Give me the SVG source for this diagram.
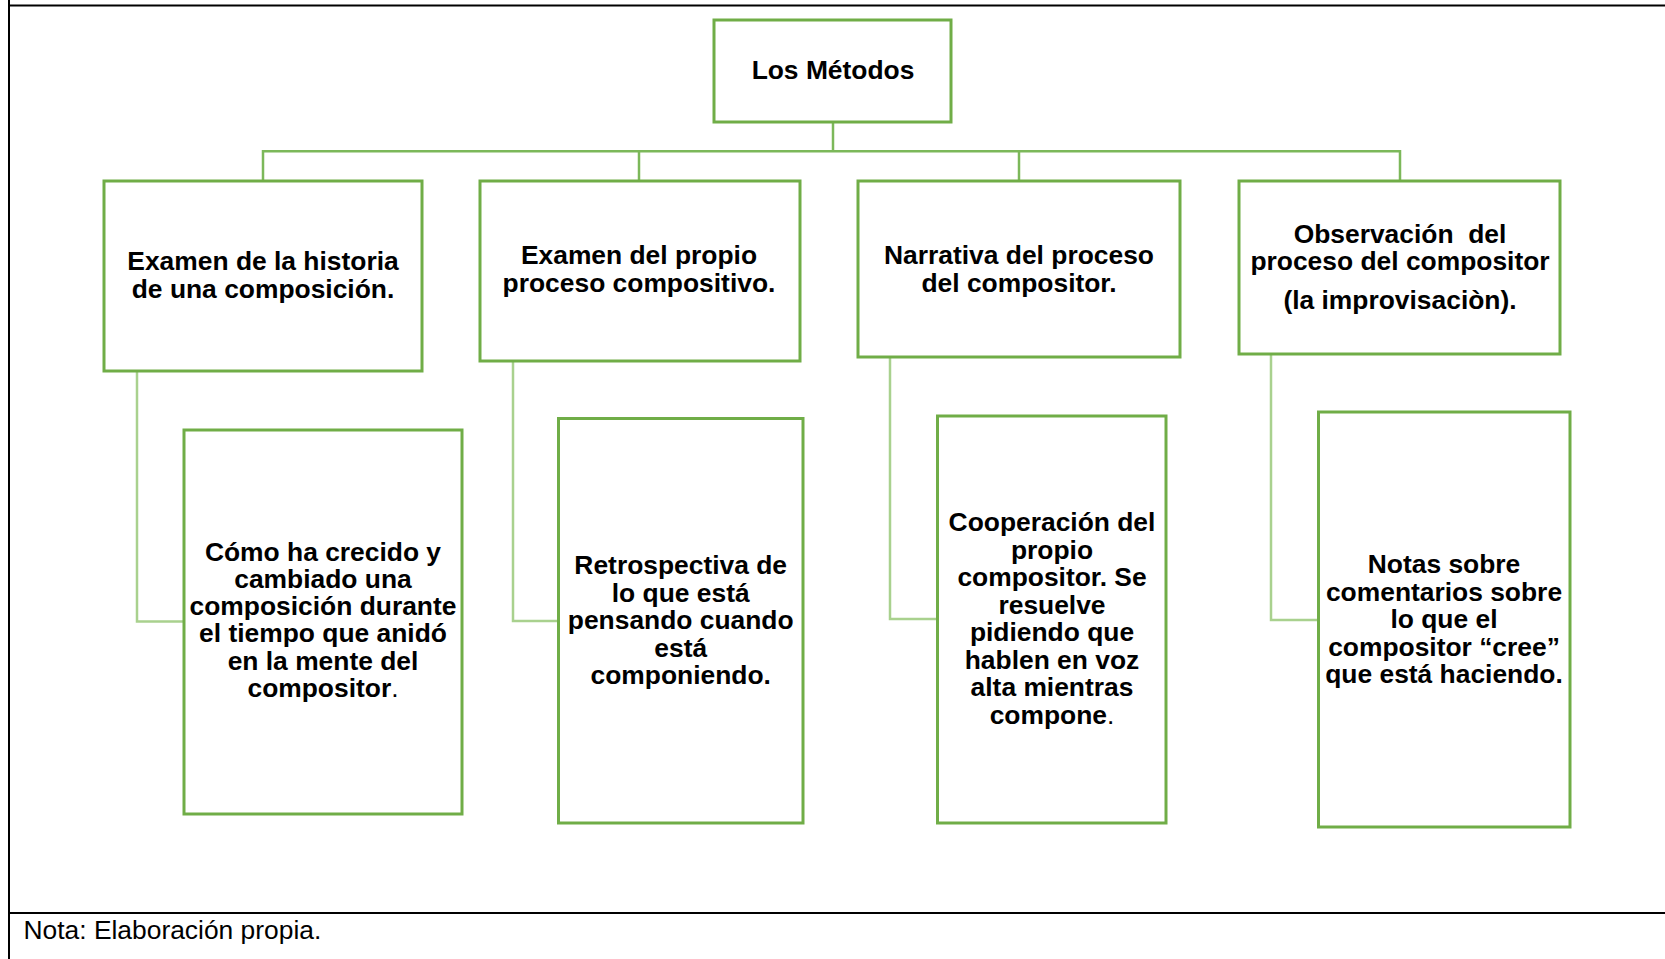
<svg xmlns="http://www.w3.org/2000/svg" width="1665" height="959" viewBox="0 0 1665 959">
<style>
.frame{stroke:#000;stroke-width:2;fill:none}
.box{fill:#fff;stroke:#70ad47;stroke-width:3}
.tree{fill:none;stroke:#7cb85a;stroke-width:2.5}
.elbow{fill:none;stroke:#a9d18e;stroke-width:2.5}
.t{font-family:"Liberation Sans",Arial,sans-serif;font-size:26.4px;font-weight:bold;fill:#000;text-anchor:middle}
.r{font-weight:normal}
.nota{font-family:"Liberation Sans",Arial,sans-serif;font-size:26.4px;fill:#000}
</style>
<rect x="0" y="0" width="1665" height="959" fill="#fff"/>
<g id="frame">
<line class="frame" x1="9" y1="0" x2="9" y2="959"/>
<line class="frame" x1="9" y1="5.5" x2="1665" y2="5.5"/>
<line class="frame" x1="9" y1="913" x2="1665" y2="913"/>
</g>
<g id="connectors">
<polyline class="tree" points="833,122 833,151.3"/>
<polyline class="tree" points="263,181 263,151.3 1400,151.3 1400,181"/>
<line class="tree" x1="639" y1="151.3" x2="639" y2="181"/>
<line class="tree" x1="1019" y1="151.3" x2="1019" y2="181"/>
<polyline class="elbow" points="137,371 137,621.5 184,621.5"/>
<polyline class="elbow" points="513,361 513,621 558.5,621"/>
<polyline class="elbow" points="890,357 890,619 937.5,619"/>
<polyline class="elbow" points="1271,354 1271,620 1318.5,620"/>
</g>
<g id="root">
<rect class="box" x="714" y="20" width="237" height="102"/>
<text class="t" x="833" y="79">Los Métodos</text>
</g>
<g id="n1">
<rect class="box" x="104" y="181" width="318" height="190"/>
<text class="t" x="263" y="270">Examen de la historia</text>
<text class="t" x="263" y="297.5">de una composición.</text>
</g>
<g id="n2">
<rect class="box" x="480" y="181" width="320" height="180"/>
<text class="t" x="639" y="264">Examen del propio</text>
<text class="t" x="639" y="291.5">proceso compositivo.</text>
</g>
<g id="n3">
<rect class="box" x="858" y="181" width="322" height="176"/>
<text class="t" x="1019" y="264">Narrativa del proceso</text>
<text class="t" x="1019" y="291.5">del compositor.</text>
</g>
<g id="n4">
<rect class="box" x="1239" y="181" width="321" height="173"/>
<text class="t" x="1400" y="243" style="white-space:pre">Observación  del</text>
<text class="t" x="1400" y="270">proceso del compositor</text>
<text class="t" x="1400" y="309">(la improvisaciòn).</text>
</g>
<g id="n1b">
<rect class="box" x="184" y="430" width="278" height="384"/>
<text class="t" x="323" y="560.5">Cómo ha crecido y</text>
<text class="t" x="323" y="587.8">cambiado una</text>
<text class="t" x="323" y="615.1">composición durante</text>
<text class="t" x="323" y="642.4">el tiempo que anidó</text>
<text class="t" x="323" y="669.7">en la mente del</text>
<text class="t" x="323" y="697">compositor<tspan class="r">.</tspan></text>
</g>
<g id="n2b">
<rect class="box" x="558.5" y="418.5" width="244.5" height="404.5"/>
<text class="t" x="680.7" y="574">Retrospectiva de</text>
<text class="t" x="680.7" y="601.5">lo que está</text>
<text class="t" x="680.7" y="629">pensando cuando</text>
<text class="t" x="680.7" y="656.5">está</text>
<text class="t" x="680.7" y="684">componiendo.</text>
</g>
<g id="n3b">
<rect class="box" x="937.5" y="416" width="228.5" height="407"/>
<text class="t" x="1052" y="531">Cooperación del</text>
<text class="t" x="1052" y="558.5">propio</text>
<text class="t" x="1052" y="586">compositor. Se</text>
<text class="t" x="1052" y="613.5">resuelve</text>
<text class="t" x="1052" y="641">pidiendo que</text>
<text class="t" x="1052" y="668.5">hablen en voz</text>
<text class="t" x="1052" y="696">alta mientras</text>
<text class="t" x="1052" y="723.5">compone<tspan class="r">.</tspan></text>
</g>
<g id="n4b">
<rect class="box" x="1318.5" y="412" width="251.5" height="415"/>
<text class="t" x="1444" y="573">Notas sobre</text>
<text class="t" x="1444" y="600.5">comentarios sobre</text>
<text class="t" x="1444" y="628">lo que el</text>
<text class="t" x="1444" y="655.5">compositor “cree”</text>
<text class="t" x="1444" y="683">que está haciendo.</text>
</g>
<g id="note">
<text class="nota" x="23.5" y="938.5">Nota: Elaboración propia.</text>
</g>
</svg>
